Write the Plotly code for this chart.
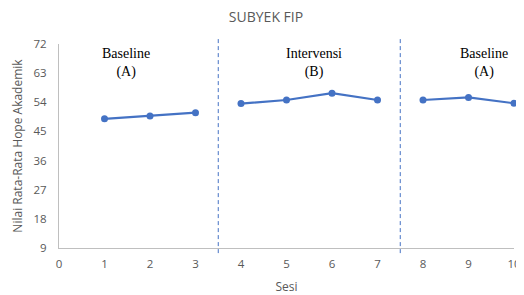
import plotly.graph_objects as go

# Data
baseline1_sesi = [1, 2, 3]
baseline1_val = [48.9, 49.8, 50.8]
intervensi_sesi = [4, 5, 6, 7]
intervensi_val = [53.6, 54.7, 56.8, 54.7]
baseline2_sesi = [8, 9, 10]
baseline2_val = [54.7, 55.5, 53.7]
phase_breaks = [3.5, 7.5]
phase_labels = ["Baseline<br>(A)", "Intervensi<br>(B)", "Baseline<br>(A)"]
phase_label_x = [1.47, 5.6, 9.33]
y_ticks = [9, 18, 27, 36, 45, 54, 63, 72]
x_ticks = list(range(0, 11))

color = "#4472C4"
fig = go.Figure()
for xs, ys in [(baseline1_sesi, baseline1_val), (intervensi_sesi, intervensi_val), (baseline2_sesi, baseline2_val)]:
    fig.add_trace(go.Scatter(x=xs, y=ys, mode="lines+markers",
                             line=dict(color=color, width=2.2),
                             marker=dict(color=color, size=7),
                             showlegend=False, cliponaxis=False))

for xb in phase_breaks:
    fig.add_shape(type="line", x0=xb, x1=xb, xref="x", yref="paper", y0=-0.025, y1=1.03,
                  line=dict(color=color, width=1, dash="4px,3px"))

for lx, lt in zip(phase_label_x, phase_labels):
    fig.add_annotation(x=lx, y=72, xref="x", yref="y", text=lt, showarrow=False,
                       yanchor="top", yshift=0,
                       font=dict(family="Liberation Serif", size=14, color="#000000"))

tickfont = dict(family="Open Sans", size=11.5, color="#595959")
# the page body has an 8px margin, so the figure is sized to fill the window from that offset
fig.update_layout(
    width=516, height=287,
    margin=dict(l=51, r=10, t=36, b=47, autoexpand=False),
    paper_bgcolor="white", plot_bgcolor="white",
    title=dict(text="SUBYEK FIP", x=0.5, xanchor="center", y=0.968, yanchor="middle",
               automargin=False,
               font=dict(family="Open Sans", size=14, color="#595959")),
    xaxis=dict(range=[0, 10], tickvals=x_ticks, showgrid=False, zeroline=False,
               showline=True, linecolor="#BFBFBF", linewidth=1, ticks="",
               tickfont=tickfont, automargin=False, ticklabelstandoff=5,
               ticklabeloverflow="allow",
               title=dict(text="Sesi", font=dict(family="Open Sans", size=12, color="#595959"), standoff=13)),
    yaxis=dict(range=[9, 72], tickvals=y_ticks, showgrid=False, zeroline=False,
               showline=True, linecolor="#BFBFBF", linewidth=1, ticks="",
               tickfont=tickfont, automargin=False, ticklabelstandoff=9,
               title=dict(text="Nilai Rata-Rata Hope Akademik",
                          font=dict(family="Open Sans", size=12, color="#595959"), standoff=8)),
)
fig.write_html("out.html")
